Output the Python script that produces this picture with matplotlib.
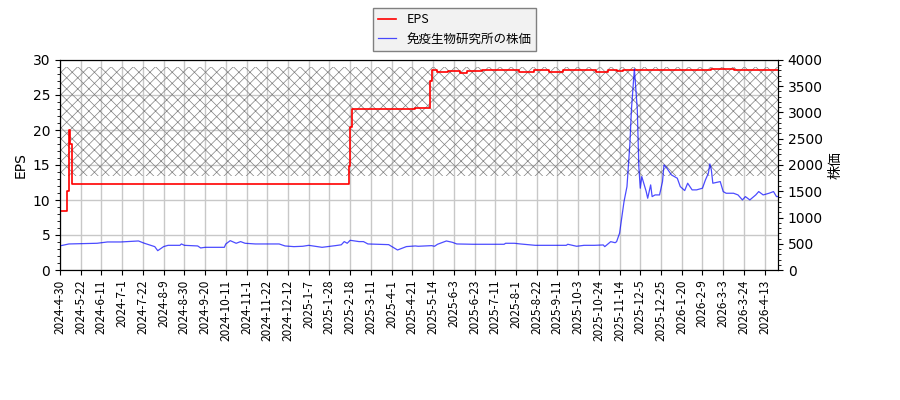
import matplotlib
matplotlib.use("Agg")
import matplotlib.pyplot as plt
import numpy as np

# x tick labels (every 14 trading days, index-based axis)
tick_labels = ["2024-4-30", "2024-5-22", "2024-6-11", "2024-7-1", "2024-7-22", "2024-8-9",
               "2024-8-30", "2024-9-20", "2024-10-11", "2024-11-1", "2024-11-22", "2024-12-12",
               "2025-1-7", "2025-1-28", "2025-2-18", "2025-3-11", "2025-4-1", "2025-4-21",
               "2025-5-14", "2025-6-3", "2025-6-23", "2025-7-11", "2025-8-1", "2025-8-22",
               "2025-9-11", "2025-10-3", "2025-10-24", "2025-11-14", "2025-12-5", "2025-12-25",
               "2026-1-20", "2026-2-9", "2026-3-3", "2026-3-24", "2026-4-13"]
tick_step = 14
n_days = 486

# EPS (step series): trading-day index where value starts, value
eps_idx = [0, 5, 6, 6.3, 7, 8, 195, 196, 197, 240, 250, 251, 255, 262, 270, 275, 285, 295,
           310, 320, 330, 340, 352, 362, 370, 376, 380, 400, 440, 455, 465, 478, 485]
eps_val = [8.5, 11.3, 17.0, 20.0, 18.0, 12.3, 14.9, 20.4, 23.0, 23.1, 27.0, 28.6, 28.3, 28.4,
           28.2, 28.4, 28.6, 28.5, 28.3, 28.5, 28.3, 28.6, 28.5, 28.3, 28.5, 28.4, 28.6, 28.5,
           28.7, 28.5, 28.6, 28.5, 28.5]

# share price: trading-day index, value
price_idx = [0, 6, 25, 32, 41, 53, 57, 64, 66, 70, 73, 81, 82, 84, 93, 95, 98, 111, 112, 115,
             119, 122, 125, 132, 148, 152, 158, 164, 168, 177, 186, 190, 192, 194, 196, 202,
             205, 208, 222, 228, 234, 240, 242, 251, 253, 255, 261, 265, 268, 279, 300, 301,
             307, 311, 321, 342, 343, 349, 354, 361, 367, 368, 372, 375, 376, 378, 381, 383,
             385, 386, 388, 390, 391, 392, 393, 394, 396, 397, 399, 400, 402, 405, 407, 408,
             410, 413, 417, 419, 422, 424, 427, 430, 434, 436, 438, 439, 440, 441, 446, 448,
             450, 455, 458, 461, 463, 466, 470, 472, 475, 479, 482, 484, 485]
price_val = [460, 496, 509, 534, 534, 553, 509, 445, 368, 446, 470, 470, 496, 470, 458, 420,
             432, 432, 496, 559, 509, 541, 509, 496, 496, 458, 445, 452, 470, 432, 464, 480,
             541, 509, 566, 541, 541, 496, 483, 381, 446, 458, 452, 464, 452, 490, 553, 528,
             496, 490, 490, 509, 509, 496, 470, 470, 490, 452, 470, 470, 477, 445, 540, 520,
             540, 700, 1303, 1589, 2416, 3051, 3830, 3051, 1970, 1558, 1780, 1684, 1494, 1367,
             1621, 1398, 1430, 1430, 1684, 2002, 1939, 1812, 1748, 1589, 1513, 1653, 1526,
             1526, 1558, 1716, 1844, 2021, 1907, 1653, 1684, 1494, 1462, 1462, 1430, 1335,
             1398, 1335, 1430, 1494, 1430, 1462, 1494, 1398, 1400]

# hatched band (in EPS units)
band_lo, band_hi = 13.4, 29.0

plt.rcParams['font.family'] = ['DejaVu Sans']
plt.rcParams['hatch.linewidth'] = 0.5
jp = ['Noto Sans CJK JP', 'DejaVu Sans']

fig = plt.figure(figsize=(9, 4), dpi=100)
ax = fig.add_axes([0.0667, 0.325, 0.7977, 0.525])
ax2 = ax.twinx()

ax.axhspan(band_lo, band_hi, facecolor='none', edgecolor='#808080', hatch='xxx', linewidth=0, zorder=1)
l1, = ax.plot(eps_idx, eps_val, color='red', drawstyle='steps-post', lw=1.2, label='EPS', zorder=3)
l2, = ax2.plot(price_idx, price_val, color='blue', alpha=0.7, lw=0.9, label='免疫生物研究所の株価')

ax.set_xlim(0, n_days - 1)
ax.set_ylim(0, 30)
ax2.set_ylim(0, 4000)
ax.set_yticks(np.arange(0, 31, 5))
ax.set_yticks(np.arange(0, 31, 1), minor=True)
ax2.set_yticks(np.arange(0, 4001, 500))
ax2.set_yticks(np.arange(0, 4001, 100), minor=True)

ticks = [i * tick_step for i in range(len(tick_labels))]
ax.set_xticks(ticks)
ax.set_xticklabels(tick_labels, rotation=90, family=jp, fontsize=8.5)
ax.grid(True, color='#c8c8c8', lw=1)
ax.set_axisbelow(True)

ax.set_ylabel('EPS', fontsize=10)
ax2.set_ylabel('株価', family=jp, fontsize=10)
ax.tick_params(axis='y', labelsize=10)
ax2.tick_params(labelsize=10)

leg = fig.legend([l1, l2], ['EPS', '免疫生物研究所の株価'], loc='upper center',
                 bbox_to_anchor=(0.505, 0.995), prop={'family': jp, 'size': 9},
                 handlelength=1.5, fancybox=False, edgecolor='gray', facecolor='#f2f2f2',
                 framealpha=1)

fig.savefig('out.png', dpi=100)
